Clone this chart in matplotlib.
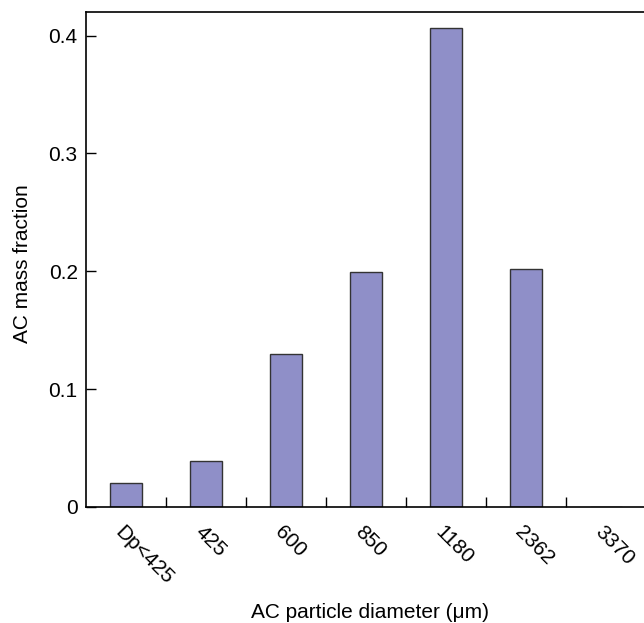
import numpy as np
import matplotlib.pyplot as plt
import matplotlib.transforms as mtransforms
from matplotlib.ticker import FixedLocator, FuncFormatter

plt.rcParams['font.family'] = ['Liberation Sans', 'DejaVu Sans']

# %%
sizes = ['Dp<425', '425', '600', '850', '1180', '2362', '3370']
mass_frac = [0.020, 0.039, 0.130, 0.199, 0.406, 0.202, 0.0]
yticks = [0, 0.1, 0.2, 0.3, 0.4]

# %%
fig = plt.figure(figsize=(6.44, 6.23), dpi=100)
ax = fig.add_axes([86/644, 116/623, 560/644, 495/623])

x = np.arange(len(sizes))
ax.bar(x, mass_frac, width=0.4, color='#8f8fc8', edgecolor='#333333', linewidth=1.0)

ax.set_xlim(-0.5, len(sizes) - 0.5)
ax.set_ylim(0, 0.42)
ax.set_yticks(yticks)
ax.yaxis.set_major_formatter(FuncFormatter(lambda v, p: '0' if v == 0 else '{:.1f}'.format(v)))

ax.set_xticks(x)
ax.set_xticklabels(sizes, rotation=-45, ha='left', va='center', rotation_mode='anchor')
ax.xaxis.set_minor_locator(FixedLocator(np.arange(0.5, len(sizes) - 1, 1.0)))
ax.tick_params(axis='x', which='major', length=0, pad=13, labelsize=15)
ax.tick_params(axis='x', which='minor', direction='in', length=7, width=1)
ax.tick_params(axis='y', direction='in', length=7, width=1, labelsize=15, pad=6)

# nudge rotated labels a bit to the left / down
shift = mtransforms.ScaledTranslation(-8/100, -4/100, fig.dpi_scale_trans)
for lab in ax.get_xticklabels():
    lab.set_transform(lab.get_transform() + shift)

ax.spines['right'].set_visible(False)
for s in ['left', 'top', 'bottom']:
    ax.spines[s].set_linewidth(1.2)

ax.set_xlabel('AC particle diameter (\u03bcm)', fontsize=15, va='center')
ax.xaxis.set_label_coords(0.507, -0.214)
ax.set_ylabel('AC mass fraction', fontsize=15, va='center')
ax.yaxis.set_label_coords(-0.114, 0.492)

fig.savefig('out.png', dpi=100)
